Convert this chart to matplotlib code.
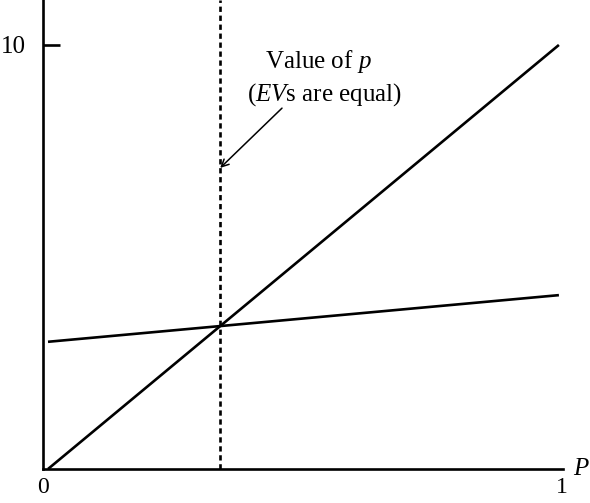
import matplotlib
matplotlib.use("Agg")
import matplotlib.pyplot as plt
from matplotlib.transforms import ScaledTranslation

# Data
p_values = [0.0, 1.0]
line_steep = [0.0, 10.0]
line_flat = [3.0, 4.1]
p_equal = 0.337
y_ticks = [10]
y_tick_labels = ["10"]
x_ticks = [0, 1]
x_tick_labels = ["0", "1"]

plt.rcParams['font.family'] = ['Liberation Serif', 'DejaVu Serif']
plt.rcParams['mathtext.fontset'] = 'custom'
plt.rcParams['mathtext.rm'] = 'Liberation Serif'
plt.rcParams['mathtext.it'] = 'Liberation Serif:italic'

FS = 18

fig = plt.figure(figsize=(5.9, 5.03), dpi=100)
ax = fig.add_axes([42.7/590, (503-469)/503, (563-42.7)/590, 469/503])

ax.plot(p_values, line_steep, color='black', lw=1.9, solid_capstyle='butt')
ax.plot(p_values, line_flat, color='black', lw=1.9, solid_capstyle='butt')
ax.axvline(p_equal, ymin=0, ymax=1, color='black', lw=1.9, linestyle=(0, (2.0, 1.4)))

ax.set_xlim(-0.0104, 1.008)
ax.set_ylim(0, 11.06)

for s in ['top', 'right']:
    ax.spines[s].set_visible(False)
for s in ['left', 'bottom']:
    ax.spines[s].set_linewidth(1.9)

ax.set_yticks(y_ticks)
ax.set_yticklabels(y_tick_labels, fontsize=FS)
ax.tick_params(axis='y', direction='in', length=12, width=1.9, pad=12)
ax.set_xticks(x_ticks)
ax.set_xticklabels(x_tick_labels, fontsize=17)
ax.tick_params(axis='x', length=0, pad=6)
xl = ax.get_xticklabels()
xl[0].set_transform(xl[0].get_transform() + ScaledTranslation(-0.05, 0, fig.dpi_scale_trans))
xl[1].set_transform(xl[1].get_transform() + ScaledTranslation(0.03, 0, fig.dpi_scale_trans))

ax.annotate('$P$', xy=(1, 0), xycoords='axes fraction', xytext=(7, 0),
            textcoords='offset points', ha='left', va='center', fontsize=FS)

ax.text(0.530, 9.62, 'Value of $p$', ha='center', va='center', fontsize=FS)
ax.text(0.542, 8.84, '($EV$s are equal)', ha='center', va='center', fontsize=FS)
ax.annotate('', xy=(p_equal, 7.10), xytext=(0.458, 8.51),
            arrowprops=dict(arrowstyle='->', color='black', lw=1.1,
                            shrinkA=0, shrinkB=0, mutation_scale=13))

fig.savefig('out.png', dpi=100)
